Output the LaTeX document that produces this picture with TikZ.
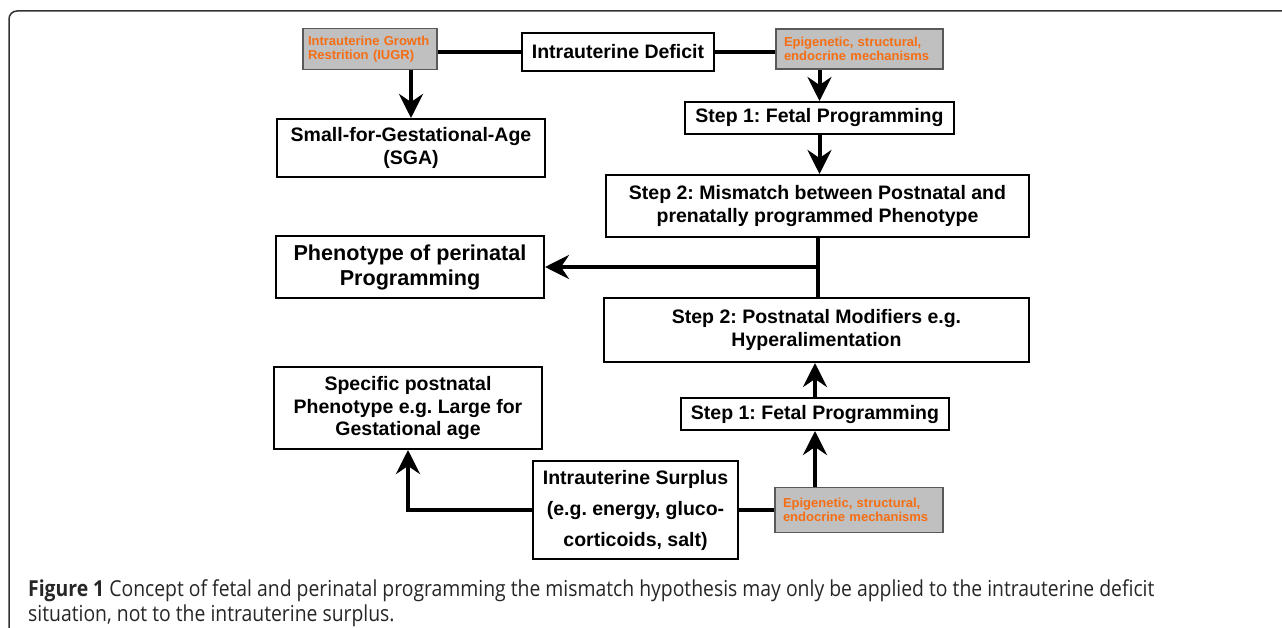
\documentclass[tikz,border=0pt]{standalone}
\usepackage{fontspec}
\setmainfont{Liberation Sans}
\newfontfamily\capfont[FakeStretch=0.88]{Open Sans}
\usetikzlibrary{arrows.meta}
\definecolor{boxgrey}{RGB}{192,192,192}
\definecolor{epiorange}{RGB}{245,110,20}
\tikzset{
  box/.style={draw, line width=2pt, font=\bfseries\fontsize{19.5}{23}\selectfont, align=center, inner sep=0pt},
  greybox/.style={draw=black!65, line width=1.2pt, fill=boxgrey, text=epiorange, font=\bfseries\fontsize{13}{14.5}\selectfont, align=left, inner ysep=0pt},
  link/.style={line width=4pt}
}
\frenchspacing

\begin{document}
\begin{tikzpicture}[x=1pt,y=-1pt,>={Stealth[length=24pt,width=24pt,inset=8pt]}]
\useasboundingbox (0,0) rectangle (1282,628);
\draw[black!80, line width=1.5pt, rounded corners=8pt] (9,628) -- (9,11) -- (1282,11);

\node[greybox, text width=124pt, inner xsep=5pt, minimum height=41pt] (iugr) at (370,49) {Intrauterine Growth\\Restrition (IUGR)};
\node[box, minimum width=192pt, minimum height=38pt] (deficit) at (618,52) {Intrauterine Deficit};
\node[greybox, text width=151pt, inner xsep=8pt, minimum height=40pt] (epiA) at (859.5,49) {Epigenetic, structural,\\endocrine mechanisms};
\node[box, minimum width=269pt, minimum height=32pt] (stepA) at (819.5,118) {Step 1: Fetal Programming};
\node[box, minimum width=268pt, minimum height=58pt] (sga) at (411,148) {Small-for-Gestational-Age\\(SGA)};
\node[box, minimum width=423pt, minimum height=62pt] (mismatch) at (817.5,206) {Step 2: Mismatch between Postnatal and\\prenatally programmed Phenotype};
\node[box, minimum width=268pt, minimum height=62pt, font=\bfseries\fontsize{21.6}{25}\selectfont] (pheno) at (410,267) {Phenotype of perinatal\\Programming};
\node[box, minimum width=425pt, minimum height=64pt] (postmod) at (816.5,330) {Step 2: Postnatal Modifiers e.g.\\Hyperalimentation};
\node[box, minimum width=268pt, minimum height=32pt] (stepB) at (815,414) {Step 1: Fetal Programming};
\node[box, minimum width=268pt, minimum height=82pt, font=\bfseries\fontsize{19.5}{22}\selectfont] (specific) at (408,408) {Specific postnatal\\Phenotype e.g. Large for\\Gestational age};
\node[box, minimum width=205pt, minimum height=98pt, font=\bfseries\fontsize{19.5}{31}\selectfont] (surplus) at (635.5,510) {Intrauterine Surplus\\(e.g. energy, gluco-\\corticoids, salt)};
\node[greybox, text width=152pt, inner xsep=8pt, minimum height=45pt] (epiB) at (859,510) {Epigenetic, structural,\\endocrine mechanisms};

\draw[link] (deficit.west) -- (deficit.west -| iugr.east);
\draw[link] (deficit.east) -- (deficit.east -| epiA.west);
\draw[link,->] (sga.north |- iugr.south) -- (sga.north);
\draw[link,->] (stepA.north |- epiA.south) -- (stepA.north);
\draw[link,->] (stepA.south) -- (stepA.south |- mismatch.north);
\draw[link] (mismatch.south) -- (mismatch.south |- postmod.north);
\draw[link,->] (mismatch.south |- pheno.east) -- (pheno.east);
\draw[link,->] (stepB.north) -- (stepB.north |- postmod.south);
\draw[link,->] (stepB.south |- epiB.north) -- (stepB.south);
\draw[link] (surplus.east) -- (surplus.east -| epiB.west);
\draw[link,->] (surplus.west) -| (specific.south);

\node[anchor=base west, align=left, inner sep=0pt, text=black!85, font=\capfont\fontsize{22}{25}\selectfont] (caption) at (28,621) {{\bfseries Figure 1} Concept of fetal and perinatal programming the mismatch hypothesis may only be applied to the intrauterine deficit\\situation, not to the intrauterine surplus.};
\end{tikzpicture}
\end{document}
